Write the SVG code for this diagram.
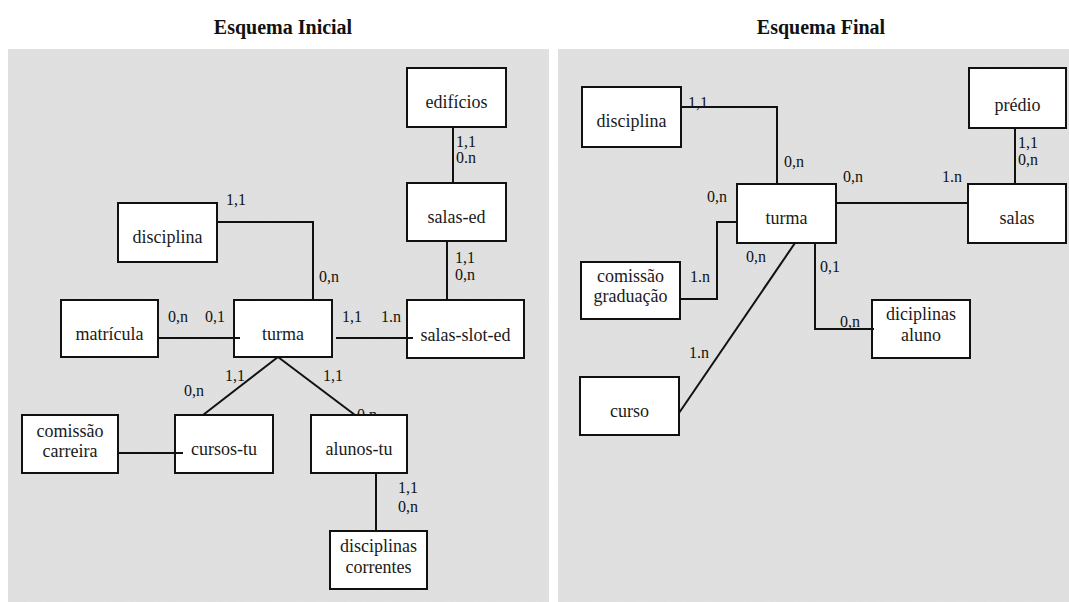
<svg xmlns="http://www.w3.org/2000/svg" width="1069" height="602" viewBox="0 0 1069 602">
  <style>
    .panel { fill: #e2e2e2; }
    .title { font-family: "Liberation Serif", "Times New Roman", serif; font-size: 20px; font-weight: bold; fill: #111; text-anchor: middle; }
    .box { fill: #ffffff; stroke: #111; stroke-width: 2; }
    .name { font-family: "Liberation Serif", "Times New Roman", serif; font-size: 18px; fill: #1a1a1a; text-anchor: middle; }
    .card { font-family: "Liberation Serif", "Times New Roman", serif; font-size: 16px; fill: #111; }
    .link { fill: none; stroke: #111; stroke-width: 2; }
  </style>
  <defs>
    <filter id="grain" x="0" y="0" width="100%" height="100%">
      <feTurbulence type="fractalNoise" baseFrequency="0.8" numOctaves="2" seed="7" result="noise"/>
      <feColorMatrix type="matrix" values="0 0 0 0 0.5  0 0 0 0 0.5  0 0 0 0 0.5  0 0 0 0.35 0" />
    </filter>
  </defs>

  <rect width="1069" height="602" fill="#ffffff"/>

  <!-- panels -->
  <rect class="panel" x="8" y="49" width="541" height="553"/>
  <rect class="panel" x="558" y="49" width="511" height="553"/>
  <rect x="8" y="49" width="541" height="553" filter="url(#grain)" opacity="0.35"/>
  <rect x="558" y="49" width="511" height="553" filter="url(#grain)" opacity="0.35"/>

  <text class="title" x="283" y="34">Esquema Inicial</text>
  <text class="title" x="821" y="34">Esquema Final</text>

  <!-- cardinalities (under the boxes) -->
  <g id="cardinalities">
    <!-- initial schema -->
    <text class="card" x="456" y="147">1,1</text>
    <text class="card" x="456" y="163">0.n</text>
    <text class="card" x="455" y="263">1,1</text>
    <text class="card" x="455" y="280">0,n</text>
    <text class="card" x="226" y="205">1,1</text>
    <text class="card" x="319" y="282">0,n</text>
    <text class="card" x="168" y="322">0,n</text>
    <text class="card" x="205" y="322">0,1</text>
    <text class="card" x="342" y="322">1,1</text>
    <text class="card" x="381" y="322">1.n</text>
    <text class="card" x="225" y="381">1,1</text>
    <text class="card" x="323" y="381">1,1</text>
    <text class="card" x="184" y="396">0,n</text>
    <text class="card" x="357" y="420">0.n</text>
    <text class="card" x="398" y="493">1,1</text>
    <text class="card" x="398" y="512">0,n</text>
    <!-- final schema -->
    <text class="card" x="688" y="108">1,1</text>
    <text class="card" x="784" y="167">0,n</text>
    <text class="card" x="843" y="182">0,n</text>
    <text class="card" x="942" y="182">1.n</text>
    <text class="card" x="1018" y="148">1,1</text>
    <text class="card" x="1018" y="165">0,n</text>
    <text class="card" x="707" y="202">0,n</text>
    <text class="card" x="690" y="282">1.n</text>
    <text class="card" x="746" y="262">0,n</text>
    <text class="card" x="820" y="272">0,1</text>
    <text class="card" x="689" y="358">1.n</text>
    <text class="card" x="840" y="327">0,n</text>
  </g>

  <!-- initial schema entities -->
  <g id="ini-edificios"><rect class="box" x="407" y="68" width="99" height="59"/><text class="name" x="456.5" y="108">edifícios</text></g>
  <g id="ini-salas-ed"><rect class="box" x="407" y="183" width="99" height="58"/><text class="name" x="456.5" y="223">salas-ed</text></g>
  <g id="ini-salas-slot-ed"><rect class="box" x="407" y="300" width="117" height="58"/><text class="name" x="465.5" y="341">salas-slot-ed</text></g>
  <g id="ini-disciplina"><rect class="box" x="118" y="203" width="99" height="59"/><text class="name" x="167.5" y="243">disciplina</text></g>
  <g id="ini-matricula"><rect class="box" x="61" y="300" width="97" height="57"/><text class="name" x="109.5" y="340">matrícula</text></g>
  <g id="ini-turma"><rect class="box" x="234" y="300" width="98" height="57"/><text class="name" x="283" y="340">turma</text></g>
  <g id="ini-comissao-carreira"><rect class="box" x="22" y="415" width="96" height="58"/><text class="name" x="70" y="437">comissão</text><text class="name" x="70" y="457">carreira</text></g>
  <g id="ini-cursos-tu"><rect class="box" x="175" y="415" width="98" height="58"/><text class="name" x="224" y="455">cursos-tu</text></g>
  <g id="ini-alunos-tu"><rect class="box" x="311" y="415" width="96" height="58"/><text class="name" x="359" y="455">alunos-tu</text></g>
  <g id="ini-disciplinas-correntes"><rect class="box" x="330" y="531" width="97" height="58"/><text class="name" x="378.5" y="552">disciplinas</text><text class="name" x="378.5" y="573">correntes</text></g>

  <!-- final schema entities -->
  <g id="fin-disciplina"><rect class="box" x="582" y="87" width="99" height="60"/><text class="name" x="631.5" y="127">disciplina</text></g>
  <g id="fin-predio"><rect class="box" x="969" y="68" width="97" height="60"/><text class="name" x="1017.5" y="111">prédio</text></g>
  <g id="fin-turma"><rect class="box" x="737" y="184" width="99" height="59"/><text class="name" x="786.5" y="224">turma</text></g>
  <g id="fin-salas"><rect class="box" x="968" y="184" width="98" height="59"/><text class="name" x="1017" y="224">salas</text></g>
  <g id="fin-comissao-graduacao"><rect class="box" x="581" y="262" width="99" height="57"/><text class="name" x="630.5" y="282">comissão</text><text class="name" x="630.5" y="302">graduação</text></g>
  <g id="fin-curso"><rect class="box" x="580" y="377" width="99" height="58"/><text class="name" x="629.5" y="417">curso</text></g>
  <g id="fin-diciplinas-aluno"><rect class="box" x="872" y="300" width="98" height="58"/><text class="name" x="921" y="320">diciplinas</text><text class="name" x="921" y="341">aluno</text></g>

  <!-- relationships -->
  <g id="connectors">
    <!-- initial schema -->
    <path class="link" d="M453 127 V183"/>
    <path class="link" d="M447 241 V300"/>
    <path class="link" d="M217 222 H313 V300"/>
    <path class="link" d="M158 338 H240"/>
    <path class="link" d="M336 338 H413"/>
    <path class="link" d="M278 357 L203 415"/>
    <path class="link" d="M278 357 L355 415"/>
    <path class="link" d="M118 453 H183"/>
    <path class="link" d="M376 473 V531"/>
    <!-- final schema -->
    <path class="link" d="M681 107 H777 V184"/>
    <path class="link" d="M836 203 H968"/>
    <path class="link" d="M1015 128 V184"/>
    <path class="link" d="M737 222 H717 V299 H680"/>
    <path class="link" d="M795 243 L679 413"/>
    <path class="link" d="M815 243 V329 H874"/>
  </g>
</svg>
